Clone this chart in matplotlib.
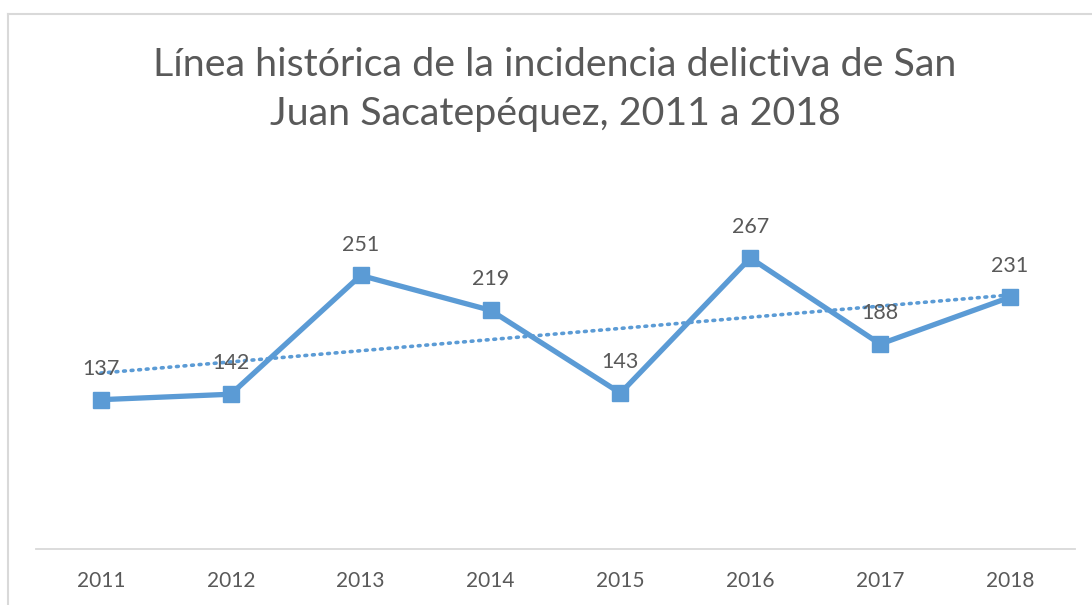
import numpy as np
import matplotlib
matplotlib.use("Agg")
import matplotlib.pyplot as plt
from matplotlib.lines import Line2D

years = ["2011", "2012", "2013", "2014", "2015", "2016", "2017", "2018"]
incidents = [137, 142, 251, 219, 143, 267, 188, 231]
title = "Línea histórica de la incidencia delictiva de San\nJuan Sacatepéquez, 2011 a 2018"

plt.rcParams['font.family'] = ['Lato', 'DejaVu Sans']
W, H = 1092, 605
fig = plt.figure(figsize=(W / 100, H / 100), dpi=100)
ax = fig.add_axes([36 / W, 1 - 549 / H, (1075 - 36) / W, (549 - 222) / H])

x = np.arange(len(years))
blue = "#5B9BD5"
gray = "#595959"

# trendline (linear fit)
coef = np.polyfit(x + 1, incidents, 1)
trend = np.polyval(coef, x + 1)
ax.plot(x, trend, linestyle=(0, (0.5, 1.6)), color=blue, lw=2.6,
        dash_capstyle='round', zorder=2)

ax.plot(x, incidents, color=blue, lw=3.8, marker='s', markersize=11,
        solid_joinstyle='miter', zorder=3)

for xi, v in zip(x, incidents):
    ax.annotate(str(v), (xi, v), xytext=(0, 15), textcoords='offset points',
                ha='center', va='bottom', fontsize=15.5, color=gray)

ax.set_xlim(-0.5, len(years) - 0.5)
ax.set_ylim(0, 300)
ax.set_xticks(x)
ax.set_xticklabels(years, fontsize=15, color=gray)
ax.tick_params(axis='x', length=0, pad=16)
ax.set_yticks([])
for s in ['top', 'right', 'left']:
    ax.spines[s].set_visible(False)
ax.spines['bottom'].set_color('#D9D9D9')
ax.spines['bottom'].set_linewidth(1.3)

fig.text(555 / W, 1 - 89.5 / H, title, ha='center', va='center',
         fontsize=28.4, color=gray, linespacing=1.45)

# chart border (left and top visible)
border = '#D9D9D9'
fig.add_artist(Line2D([7.5 / W, 7.5 / W], [0, 1 - 13.5 / H], color=border, lw=1.5,
                      transform=fig.transFigure))
fig.add_artist(Line2D([7.5 / W, 1], [1 - 13.5 / H, 1 - 13.5 / H], color=border, lw=1.5,
                      transform=fig.transFigure))

fig.savefig("out.png", dpi=100, facecolor='white')
